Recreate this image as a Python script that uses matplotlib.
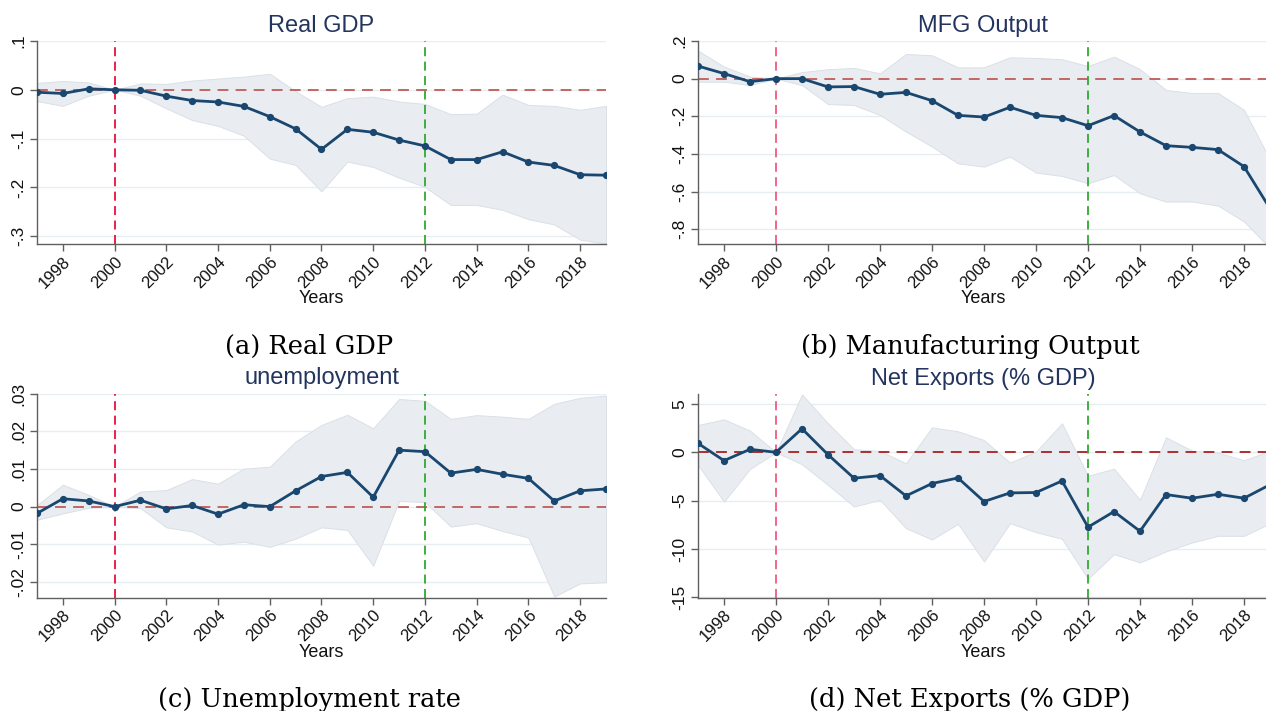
import matplotlib
matplotlib.use("Agg")
import matplotlib.pyplot as plt
from matplotlib.ticker import FixedLocator

plt.rcParams['font.family'] = ['Liberation Sans', 'DejaVu Sans']

years = list(range(1997, 2020))
xtick_years = list(range(1998, 2019, 2))

# ---- (a) Real GDP ----
gdp_coef = [-0.005, -0.0075, 0.002, 0.0, -0.001, -0.013, -0.022, -0.025, -0.034, -0.055,
            -0.080, -0.122, -0.081, -0.087, -0.103, -0.115, -0.143, -0.143, -0.127, -0.148,
            -0.155, -0.174, -0.175]
gdp_hi = [0.014, 0.018, 0.015, 0.0, 0.013, 0.012, 0.019, 0.023, 0.027, 0.033,
          -0.003, -0.035, -0.017, -0.014, -0.024, -0.029, -0.050, -0.049, -0.010, -0.031,
          -0.033, -0.041, -0.033]
gdp_lo = [-0.023, -0.033, -0.012, 0.0, -0.012, -0.038, -0.062, -0.074, -0.094, -0.141,
          -0.154, -0.208, -0.147, -0.158, -0.180, -0.199, -0.236, -0.236, -0.246, -0.265,
          -0.276, -0.307, -0.315]
gdp_yticks = [-0.3, -0.2, -0.1, 0.0, 0.1]
gdp_ylabels = ['-.3', '-.2', '-.1', '0', '.1']

# ---- (b) Manufacturing output ----
mfg_coef = [0.067, 0.027, -0.016, 0.0, 0.0, -0.044, -0.042, -0.083, -0.073, -0.117,
            -0.195, -0.204, -0.152, -0.195, -0.207, -0.250, -0.196, -0.283, -0.356, -0.365,
            -0.377, -0.467, -0.69]
mfg_hi = [0.149, 0.064, 0.011, 0.0, 0.035, 0.050, 0.057, 0.028, 0.131, 0.124,
          0.060, 0.060, 0.113, 0.110, 0.103, 0.067, 0.117, 0.050, -0.060, -0.076,
          -0.076, -0.166, -0.43]
mfg_lo = [-0.016, -0.016, -0.034, 0.0, -0.034, -0.135, -0.140, -0.193, -0.281, -0.361,
          -0.450, -0.467, -0.414, -0.499, -0.517, -0.556, -0.512, -0.609, -0.653, -0.653,
          -0.674, -0.759, -0.90]
mfg_yticks = [-0.8, -0.6, -0.4, -0.2, 0.0, 0.2]
mfg_ylabels = ['-.8', '-.6', '-.4', '-.2', '0', '.2']

# ---- (c) Unemployment ----
une_coef = [-0.0018, 0.0021, 0.0015, 0.0, 0.0017, -0.0006, 0.0003, -0.0020, 0.0005, 0.0000,
            0.0042, 0.0080, 0.0091, 0.0025, 0.0150, 0.0146, 0.0089, 0.0099, 0.0086, 0.0075,
            0.0015, 0.0042, 0.0047]
une_hi = [0.0004, 0.0058, 0.0031, 0.0, 0.0040, 0.0044, 0.0073, 0.0061, 0.0101, 0.0106,
          0.0173, 0.0217, 0.0244, 0.0208, 0.0286, 0.0281, 0.0233, 0.0243, 0.0239, 0.0233,
          0.0273, 0.0289, 0.0295]
une_lo = [-0.0035, -0.0018, -0.0003, 0.0, -0.0004, -0.0055, -0.0066, -0.0101, -0.0093, -0.0107,
          -0.0085, -0.0055, -0.0062, -0.0157, 0.0015, 0.0012, -0.0053, -0.0044, -0.0065, -0.0082,
          -0.0239, -0.0204, -0.0201]
une_yticks = [-0.02, -0.01, 0.0, 0.01, 0.02, 0.03]
une_ylabels = ['-.02', '-.01', '0', '.01', '.02', '.03']

# ---- (d) Net exports ----
nx_coef = [0.93, -0.86, 0.31, 0.0, 2.44, -0.24, -2.68, -2.41, -4.51, -3.23,
           -2.65, -5.09, -4.20, -4.16, -2.96, -7.74, -6.13, -8.16, -4.37, -4.75,
           -4.34, -4.75, -3.35]
nx_hi = [2.82, 3.41, 2.24, 0.0, 5.99, 2.99, 0.31, 0.14, -1.14, 2.58,
         2.17, 1.27, -1.07, 0.07, 2.99, -2.44, -1.69, -4.92, 1.55, 0.17,
         -0.03, -0.83, 0.16]
nx_lo = [-1.31, -5.09, -1.72, 0.0, -1.24, -3.37, -5.61, -4.92, -7.85, -9.02,
         -7.40, -11.29, -7.33, -8.26, -8.95, -13.08, -10.53, -11.39, -10.25, -9.33,
         -8.64, -8.64, -7.35]
nx_yticks = [-15, -10, -5, 0, 5]
nx_ylabels = ['-15', '-10', '-5', '0', '5']

titles = ['Real GDP', 'MFG Output', 'unemployment', 'Net Exports (% GDP)']
captions = ['(a) Real GDP', '(b) Manufacturing Output', '(c) Unemployment rate',
            '(d) Net Exports (% GDP)']
event_years = [2000, 2012]

W, H = 1266, 711
fig = plt.figure(figsize=(W / 100, H / 100), dpi=100)


def px_axes(x0, x1, ytop, ybot):
    return [x0 / W, 1 - ybot / H, (x1 - x0) / W, (ybot - ytop) / H]


panels = [
    dict(rect=px_axes(37, 606, 41, 244.3), ylim=(-0.3166, 0.1), coef=gdp_coef, hi=gdp_hi, lo=gdp_lo,
         yt=gdp_yticks, yl=gdp_ylabels, zc='#bd5c5a', c2000='#e8103c', title_y=32.3, cap_y=353.5,
         cap_x=309, xlab_y=303, tcx=321.5),
    dict(rect=px_axes(698, 1270, 41, 244.3), ylim=(-0.88, 0.2), coef=mfg_coef, hi=mfg_hi, lo=mfg_lo,
         yt=mfg_yticks, yl=mfg_ylabels, zc='#bd5c5a', c2000='#ee5a80', title_y=32.3, cap_y=354,
         cap_x=970, xlab_y=303, tcx=983),
    dict(rect=px_axes(37, 606, 393.7, 597.7), ylim=(-0.0242, 0.03), coef=une_coef, hi=une_hi, lo=une_lo,
         yt=une_yticks, yl=une_ylabels, zc='#bd5c5a', c2000='#e8103c', title_y=384, cap_y=706.5,
         cap_x=309, xlab_y=657, tcx=321.5),
    dict(rect=px_axes(698, 1270, 394.3, 597.7), ylim=(-15.04, 6.0), coef=nx_coef, hi=nx_hi, lo=nx_lo,
         yt=nx_yticks, yl=nx_ylabels, zc='#a82020', c2000='#ee5a80', title_y=385, cap_y=706.5,
         cap_x=970, xlab_y=657, tcx=983),
]

navy = '#1a476f'
for i, p in enumerate(panels):
    ax = fig.add_axes(p['rect'])
    ax.set_xlim(1997, 2019)
    ax.set_ylim(*p['ylim'])
    ax.fill_between(years, p['lo'], p['hi'], facecolor='#e9edf1', edgecolor='#d9e0e7',
                    linewidth=0.7, zorder=1)
    for yv in p['yt']:
        ax.axhline(yv, color='#e6eef1', linewidth=1.0, zorder=0.5)
    ax.axhline(0, color=p['zc'], linewidth=1.3, linestyle=(0, (6, 4)), zorder=2)
    ax.axvline(event_years[0], color=p['c2000'], linewidth=1.3, linestyle=(0, (5, 3)), zorder=2)
    ax.axvline(event_years[1], color='#2eaa2e', linewidth=1.3, linestyle=(0, (5, 3)), zorder=2)
    ax.plot(years, p['coef'], color=navy, linewidth=2.0, marker='o', markersize=4.2,
            zorder=3, clip_on=True)

    for s in ['top', 'right']:
        ax.spines[s].set_visible(False)
    for s in ['left', 'bottom']:
        ax.spines[s].set_color('#606060')
        ax.spines[s].set_linewidth(1.0)

    ax.yaxis.set_major_locator(FixedLocator(p['yt']))
    ax.set_yticklabels(p['yl'], rotation=90, va='center', fontsize=12.5)
    ax.xaxis.set_major_locator(FixedLocator(xtick_years))
    ax.set_xticklabels([str(y) for y in xtick_years], rotation=45, ha='right',
                       rotation_mode='anchor', fontsize=12)
    ax.tick_params(axis='both', length=5, width=1.0, color='#606060', labelcolor='#111111')
    ax.tick_params(axis='y', pad=3)
    ax.tick_params(axis='x', pad=2)

    # axis label
    ax.set_xlabel('Years', fontsize=13, color='#111111', va='baseline')
    r = p['rect']
    ax.xaxis.set_label_coords((p['tcx'] / W - r[0]) / r[2], (1 - p['xlab_y'] / H - r[1]) / r[3])

    # title
    fig.text(p['tcx'] / W, 1 - p['title_y'] / H, titles[i], ha='center', va='baseline',
             fontsize=17, color='#23355f')
    # caption
    fig.text(p['cap_x'] / W, 1 - p['cap_y'] / H, captions[i], ha='center', va='baseline',
             fontsize=18.5, color='black', family='DejaVu Serif')

fig.savefig('out.png', dpi=100, facecolor='white')
